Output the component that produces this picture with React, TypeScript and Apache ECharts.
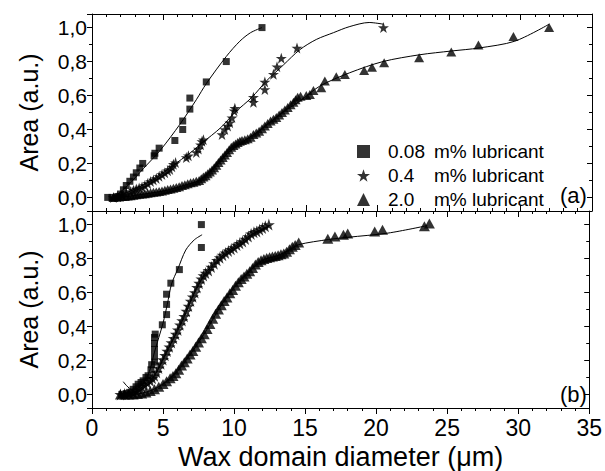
import React, { useEffect, useRef } from 'react';
import * as echarts from 'echarts';

// ---------- data: panel (a) ----------
const topSquares: number[][] = [
  [1.1, 0.0], [1.4, 0.0], [1.8, 0.005], [2.0, 0.02], [2.2, 0.045], [2.4, 0.07], [2.65, 0.095],
  [2.9, 0.12], [3.1, 0.145], [3.35, 0.173], [3.55, 0.2], [4.35, 0.245], [4.4, 0.26], [4.7, 0.29],
  [5.8, 0.335], [6.35, 0.4], [6.35, 0.45], [6.85, 0.52], [6.85, 0.585], [8.0, 0.68], [9.4, 0.8], [11.9, 1.0],
];
const topSquaresFit: number[][] = [
  [1.25, -0.02], [2.5, 0.07], [3.6, 0.17], [4.8, 0.28], [6.15, 0.43], [7.3, 0.575], [8.0, 0.67],
  [9.4, 0.83], [10.35, 0.92], [11.1, 0.97], [11.9, 1.0],
];
const topStars: number[][] = [
  [1.5, 0.0], [1.8, 0.005], [2.1, 0.012], [2.4, 0.022], [2.7, 0.035], [2.9, 0.042], [3.1, 0.05],
  [3.3, 0.056], [3.5, 0.062], [3.7, 0.07], [3.9, 0.082], [4.1, 0.094], [4.3, 0.103], [4.5, 0.112],
  [4.7, 0.124], [4.9, 0.135], [5.1, 0.145], [5.3, 0.157], [5.45, 0.165], [5.6, 0.18], [5.7, 0.195],
  [5.85, 0.205], [6.6, 0.235], [6.75, 0.245], [7.3, 0.265], [7.45, 0.285], [7.6, 0.31], [7.7, 0.33],
  [7.8, 0.34], [9.1, 0.37], [9.3, 0.4], [9.5, 0.42], [9.65, 0.44], [9.8, 0.47], [9.95, 0.51],
  [10.0, 0.525], [11.3, 0.56], [11.3, 0.59], [12.1, 0.635], [12.1, 0.68], [12.7, 0.725], [12.95, 0.77],
  [13.25, 0.82], [14.35, 0.88], [20.4, 1.0],
];
const topStarsFit: number[][] = [
  [1.3, -0.015], [2.5, 0.03], [3.5, 0.07], [4.5, 0.115], [5.7, 0.19], [6.85, 0.26], [7.7, 0.32],
  [9.0, 0.41], [10.0, 0.5], [11.2, 0.59], [12.2, 0.685], [13.4, 0.78], [14.55, 0.87], [15.7, 0.93],
  [16.9, 0.97], [18.0, 1.005], [19.4, 1.03], [20.4, 1.02],
];
const topTriangles: number[][] = [
  [1.5, 0.0], [1.7, 0.002], [1.9, 0.003], [2.1, 0.005], [2.3, 0.006], [2.5, 0.008], [2.7, 0.01],
  [2.9, 0.013], [3.1, 0.015], [3.3, 0.018], [3.5, 0.02], [3.7, 0.022], [3.9, 0.025], [4.1, 0.027],
  [4.3, 0.03], [4.5, 0.032], [4.7, 0.035], [4.9, 0.038], [5.1, 0.042], [5.3, 0.046], [5.5, 0.05],
  [5.7, 0.054], [5.9, 0.058], [6.1, 0.063], [6.3, 0.07], [6.5, 0.075], [6.7, 0.08], [6.9, 0.086],
  [7.1, 0.09], [7.3, 0.095], [7.5, 0.1], [7.65, 0.11], [7.8, 0.12], [7.95, 0.128], [8.1, 0.14],
  [8.25, 0.15], [8.4, 0.162], [8.55, 0.175], [8.7, 0.19], [8.85, 0.205], [9.0, 0.22], [9.15, 0.235],
  [9.3, 0.25], [9.45, 0.265], [9.6, 0.28], [9.75, 0.295], [9.9, 0.305], [10.05, 0.315], [10.2, 0.323],
  [10.35, 0.33], [10.5, 0.335], [10.7, 0.34], [10.9, 0.345], [11.1, 0.355], [11.3, 0.37], [11.5, 0.38],
  [11.7, 0.39], [11.9, 0.405], [12.1, 0.42], [12.3, 0.435], [12.5, 0.45], [12.7, 0.46], [12.9, 0.47],
  [13.1, 0.485], [13.3, 0.5], [13.5, 0.515], [13.7, 0.53], [13.9, 0.545], [14.1, 0.56], [14.25, 0.575],
  [14.4, 0.59], [14.6, 0.595], [15.0, 0.6], [15.25, 0.606], [15.5, 0.63], [16.05, 0.646], [16.3, 0.685],
  [17.1, 0.71], [17.7, 0.724], [19.05, 0.748], [19.6, 0.767], [20.45, 0.793], [22.9, 0.823],
  [25.15, 0.856], [27.05, 0.897], [29.5, 0.947], [32.0, 1.0],
];
const topTrianglesFit: number[][] = [
  [1.3, -0.01], [3.0, 0.012], [5.0, 0.038], [6.5, 0.072], [7.5, 0.1], [8.5, 0.17], [9.5, 0.26],
  [10.5, 0.325], [11.5, 0.38], [12.5, 0.445], [13.5, 0.51], [14.55, 0.567], [15.94, 0.655], [18.04, 0.734],
  [20.37, 0.8], [22.94, 0.84], [25.15, 0.862], [27.1, 0.88], [29.6, 0.92], [32.0, 1.02],
];

// ---------- data: panel (b) ----------
const botSquares: number[][] = [
  [2.1, 0.0], [2.4, 0.005], [2.65, 0.012], [2.9, 0.03], [3.1, 0.045], [3.25, 0.06], [3.45, 0.07],
  [3.6, 0.08], [3.8, 0.1], [3.95, 0.11], [4.15, 0.145], [4.2, 0.175], [4.4, 0.19], [4.4, 0.225],
  [4.4, 0.265], [4.4, 0.3], [4.4, 0.335], [4.45, 0.355], [4.95, 0.41], [5.25, 0.47], [5.25, 0.53],
  [5.25, 0.59], [5.55, 0.655], [6.15, 0.735], [7.7, 0.865], [7.7, 1.0],
];
const botSquaresFit: number[][] = [
  [2.2, 0.075], [2.8, 0.03], [3.3, 0.04], [3.8, 0.09], [4.1, 0.15], [4.4, 0.25], [5.0, 0.42],
  [5.3, 0.53], [5.6, 0.65], [6.05, 0.74], [6.6, 0.85], [7.2, 0.91], [7.75, 0.94],
];
const botStars: number[][] = [
  [2.0, 0.0], [2.3, 0.002], [2.6, 0.005], [2.9, 0.01], [3.1, 0.02], [3.3, 0.032], [3.5, 0.045],
  [3.7, 0.055], [3.9, 0.068], [4.1, 0.08], [4.25, 0.095], [4.4, 0.11], [4.55, 0.13], [4.7, 0.155],
  [4.85, 0.18], [5.0, 0.205], [5.15, 0.23], [5.3, 0.255], [5.45, 0.28], [5.6, 0.305], [5.75, 0.33],
  [5.9, 0.355], [6.05, 0.38], [6.2, 0.41], [6.35, 0.435], [6.5, 0.46], [6.65, 0.49], [6.8, 0.52],
  [6.95, 0.55], [7.1, 0.575], [7.25, 0.6], [7.4, 0.63], [7.55, 0.655], [7.7, 0.68], [7.85, 0.7],
  [8.0, 0.715], [8.2, 0.73], [8.4, 0.75], [8.6, 0.77], [8.8, 0.79], [9.0, 0.805], [9.2, 0.82],
  [9.4, 0.833], [9.6, 0.845], [9.8, 0.855], [10.0, 0.865], [10.2, 0.88], [10.4, 0.89], [10.6, 0.9],
  [10.8, 0.915], [11.0, 0.93], [11.2, 0.945], [11.4, 0.955], [11.6, 0.96], [11.8, 0.97], [12.0, 0.98],
  [12.2, 0.99], [12.45, 1.0],
];
const botStarsFit: number[][] = [
  [2.0, -0.005], [3.0, 0.015], [4.0, 0.075], [4.5, 0.125], [5.0, 0.205], [5.5, 0.29], [6.0, 0.37],
  [6.5, 0.46], [7.0, 0.56], [7.5, 0.645], [8.0, 0.715], [8.7, 0.78], [9.4, 0.833], [10.35, 0.888],
  [11.3, 0.945], [12.45, 0.99],
];
const botTriangles: number[][] = [
  [2.0, 0.0], [2.3, 0.0], [2.6, 0.0], [2.9, 0.0], [3.2, 0.003], [3.5, 0.006], [3.8, 0.012], [4.1, 0.02],
  [4.4, 0.03], [4.7, 0.045], [5.0, 0.062], [5.25, 0.078], [5.5, 0.095], [5.7, 0.108], [5.9, 0.125],
  [6.1, 0.145], [6.3, 0.17], [6.5, 0.19], [6.7, 0.212], [6.9, 0.235], [7.1, 0.255], [7.3, 0.28],
  [7.5, 0.305], [7.7, 0.33], [7.9, 0.355], [8.1, 0.385], [8.3, 0.415], [8.5, 0.445], [8.7, 0.475],
  [8.9, 0.5], [9.1, 0.525], [9.3, 0.55], [9.5, 0.57], [9.7, 0.595], [9.9, 0.615], [10.1, 0.64],
  [10.3, 0.66], [10.5, 0.68], [10.7, 0.695], [10.9, 0.71], [11.1, 0.725], [11.3, 0.745], [11.5, 0.765],
  [11.7, 0.78], [11.9, 0.79], [12.1, 0.797], [12.3, 0.803], [12.5, 0.808], [12.7, 0.812], [12.9, 0.815],
  [13.1, 0.82], [13.3, 0.825], [13.5, 0.83], [13.7, 0.84], [13.9, 0.855], [14.1, 0.87], [14.3, 0.88],
  [14.55, 0.895], [16.6, 0.916], [17.1, 0.93], [17.7, 0.94], [18.0, 0.947], [19.9, 0.96], [20.45, 0.97],
  [23.4, 0.99], [23.75, 1.006],
];
const botTrianglesFit: number[][] = [
  [2.0, -0.005], [3.0, 0.0], [4.0, 0.018], [5.0, 0.062], [6.0, 0.135], [7.0, 0.245], [8.0, 0.37],
  [9.0, 0.512], [10.0, 0.628], [11.0, 0.718], [12.0, 0.79], [13.0, 0.815], [14.0, 0.855], [14.55, 0.882],
  [16.64, 0.912], [18.0, 0.925], [20.84, 0.95], [23.6, 0.994],
];

const seriesNames = ['0.08 m% lubricant', '0.4 m% lubricant', '2.0 m% lubricant'];
const panelLabels = ['(a)', '(b)'];
const xTitle = 'Wax domain diameter (μm)';
const yTitle = 'Area (a.u.)';

const FONT = '"Liberation Sans", Arial, Helvetica, sans-serif';
const STAR = 'path://M50,2 L61.8,38.2 L98,38.2 L68.6,59.5 L79.4,95 L50,73.2 L20.6,95 L31.4,59.5 L2,38.2 L38.2,38.2 Z';

function xAxis(gridIndex: number, position: string, showLabel: boolean, inside: boolean, name?: string) {
  return {
    type: 'value', gridIndex, position, min: 0, max: 35, interval: 5,
    name: name || '', nameLocation: 'middle', nameGap: 35,
    nameTextStyle: { fontFamily: FONT, fontSize: 27, color: '#000' },
    axisLine: { show: true, onZero: false, lineStyle: { color: '#000', width: 1 } },
    axisTick: { show: true, inside, length: 6, lineStyle: { color: '#000', width: 1 } },
    minorTick: { show: true, splitNumber: 5, length: 3, lineStyle: { color: '#000', width: 1 } },
    splitLine: { show: false },
    axisLabel: { show: showLabel, fontFamily: FONT, fontSize: 23, color: '#000', margin: 8 },
  };
}
function yAxis(gridIndex: number, position: string, showLabel: boolean, inside: boolean, name?: string) {
  return {
    type: 'value', gridIndex, position, min: -0.08, max: 1.08, splitNumber: 5,
    name: name || '', nameLocation: 'middle', nameGap: 51,
    nameTextStyle: { fontFamily: FONT, fontSize: 25, color: '#000' },
    axisLine: { show: true, onZero: false, lineStyle: { color: '#000', width: 1 } },
    axisTick: { show: true, inside, length: 5, lineStyle: { color: '#000', width: 1 } },
    minorTick: { show: true, splitNumber: 2, length: 3, lineStyle: { color: '#000', width: 1 } },
    splitLine: { show: false },
    axisLabel: {
      show: showLabel, fontFamily: FONT, fontSize: 21, color: '#000', margin: 5,
      showMinLabel: false, showMaxLabel: false,
      formatter: (v: number) => v.toFixed(1).replace('.', ','),
    },
  };
}

function scatter(name: string, data: number[][], symbol: string, size: number | number[], gi: number) {
  return {
    type: 'scatter', name, data, symbol, symbolSize: size,
    xAxisIndex: gi * 2, yAxisIndex: gi * 2,
    itemStyle: { color: '#000' }, z: 3,
  };
}
function fit(data: number[][], gi: number) {
  return {
    type: 'line', data, smooth: 0.3, showSymbol: false, symbol: 'none',
    xAxisIndex: gi * 2, yAxisIndex: gi * 2,
    lineStyle: { color: '#000', width: 1 }, z: 4, silent: true,
  };
}

export default function App() {
  const ref = useRef<HTMLDivElement>(null);
  useEffect(() => {
    if (!ref.current) return;
    const chart = echarts.init(ref.current, null, { renderer: 'svg' });
    const option: any = {
      animation: false,
      backgroundColor: '#fff',
      textStyle: { fontFamily: FONT },
      grid: [
        { left: 92, top: 14, width: 500, height: 197 },
        { left: 92, top: 211, width: 500, height: 198 },
      ],
      xAxis: [
        xAxis(0, 'bottom', false, true),
        xAxis(0, 'top', false, true),
        xAxis(1, 'bottom', true, false, xTitle),
        xAxis(1, 'top', false, true),
      ],
      yAxis: [
        yAxis(0, 'left', true, false, yTitle),
        yAxis(0, 'right', false, true),
        yAxis(1, 'left', true, false, yTitle),
        yAxis(1, 'right', false, true),
      ],
      legend: {
        data: seriesNames,
        orient: 'vertical', left: 352, top: 137,
        itemWidth: 13, itemHeight: 13, itemGap: 5,
        formatter: (n: string) => {
          const parts = n.split(' ');
          return `{a|${parts[0]}}{b|${parts.slice(1).join(' ')}}`;
        },
        textStyle: {
          color: '#000', fontFamily: FONT, fontSize: 19,
          rich: {
            a: { fontFamily: FONT, fontSize: 19, width: 46, padding: [0, 0, 0, 13], lineHeight: 19, color: '#000' },
            b: { fontFamily: FONT, fontSize: 19, lineHeight: 19, color: '#000' },
          },
        },
      },
      graphic: [
        { type: 'text', left: 560, top: 184, style: { text: panelLabels[0], font: `22px ${FONT}`, fill: '#000' } },
        { type: 'text', left: 560, top: 383, style: { text: panelLabels[1], font: `22px ${FONT}`, fill: '#000' } },
      ],
      series: [
        fit(topSquaresFit, 0), fit(topStarsFit, 0), fit(topTrianglesFit, 0),
        scatter(seriesNames[0], topSquares, 'rect', 7, 0),
        scatter(seriesNames[1], topStars, STAR, 11, 0),
        scatter(seriesNames[2], topTriangles, 'triangle', [10, 9], 0),
        fit(botSquaresFit, 1), fit(botStarsFit, 1), fit(botTrianglesFit, 1),
        scatter(seriesNames[0], botSquares, 'rect', 7, 1),
        scatter(seriesNames[1], botStars, STAR, 12, 1),
        scatter(seriesNames[2], botTriangles, 'triangle', [11, 10], 1),
      ],
    };
    chart.setOption(option);
    return () => chart.dispose();
  }, []);
  return <div ref={ref} style={{ position: 'absolute', left: 0, top: 0, width: 605, height: 471 }} />;
}
